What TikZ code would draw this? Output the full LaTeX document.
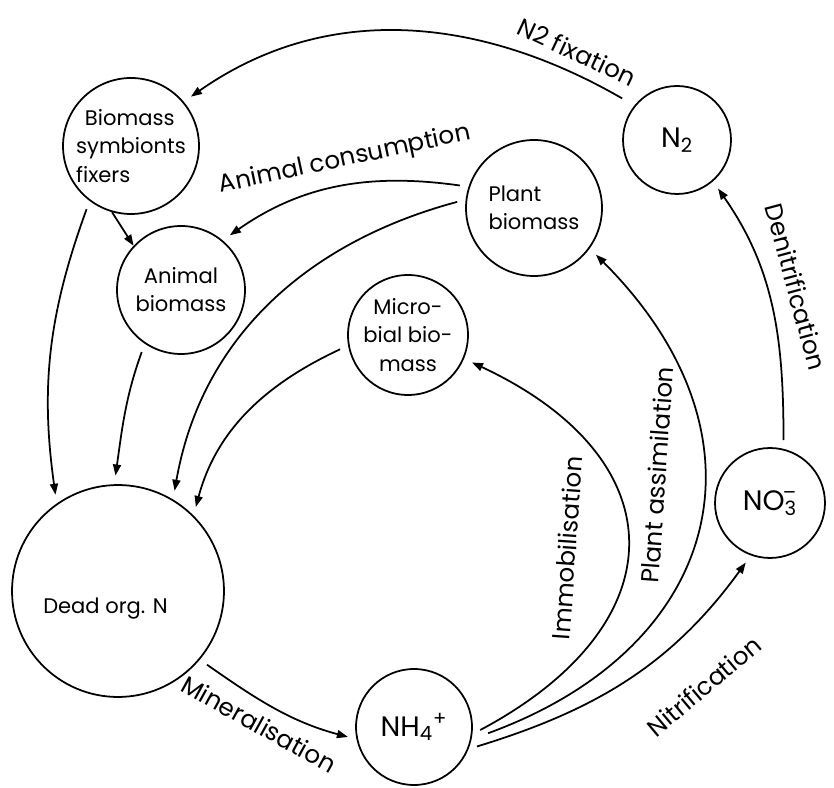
\documentclass[tikz,border=0pt]{standalone}
\usepackage{fontspec}
\setmainfont{Poppins}
\usetikzlibrary{arrows.meta}

\begin{document}
\begin{tikzpicture}[x=0.02cm,y=0.02cm,line width=1pt,
pool/.style={draw,circle,inner sep=0pt,line width=1pt},
pooltext/.style={font=\fontsize{12}{16}\selectfont,align=center},
bigtext/.style={font=\fontsize{16}{18}\selectfont},
flow/.style={-{Triangle[length=2.2mm,width=1.6mm]},shorten <=5pt,shorten >=5pt},
flowlabel/.style={font=\fontsize{14}{16}\selectfont,inner sep=0pt}]

\useasboundingbox (0,0) rectangle (834,787);

% pools
\draw (131,641) node[pool,minimum size=2.72cm,label={[pooltext,align=left]center:\hspace*{5pt}Biomass\\symbionts\\fixers}] (bio) {};
\draw (181,497) node[pool,minimum size=2.56cm,label={[pooltext]center:Animal\\biomass}] (animal) {};
\draw (534,579) node[pool,minimum size=2.72cm,label={[pooltext,align=left]center:Plant\\biomass}] (plant) {};
\draw (677,647) node[pool,minimum size=2.16cm,label={[bigtext]center:N\textsubscript{2}}] (n2) {};
\draw (408,452) node[pool,minimum size=2.4cm,label={[pooltext]center:Micro-\\bial bio-\\mass}] (micro) {};
\draw (770,284) node[pool,minimum size=2.2cm,label={[bigtext]center:NO\textsubscript{3}\llap{\textsuperscript{--}}}] (no3) {};
\draw (118,196) node[pool,minimum size=4.24cm,label={[pooltext,xshift=-0.25cm,yshift=-0.35cm]center:Dead org. N}] (dead) {};
\draw (414,60) node[pool,minimum size=2.32cm,label={[bigtext]center:NH\textsubscript{4}\textsuperscript{+}}] (nh) {};

% flows
\draw[flow,shorten <=8pt] (n2.141) to[out=150,in=35] (bio.40);
\draw[flow] (bio.233) to[out=250,in=98] (dead.125);
\draw[flow,shorten <=0pt,shorten >=0pt] (bio.254) -- (animal.137);
\draw[flow] (plant.162) to[out=172,in=35] (animal.50);
\draw[flow] (plant.173) to[out=195,in=80] (dead.59);
\draw[flow] (animal.236) to[out=250,in=82] (dead.92);
\draw[flow] (micro.190) to[out=205,in=75] (dead.45);
\draw[flow] (dead.-40) to[out=-35,in=165] (nh.192);
\draw[flow] (nh.-7) to[out=28,in=-25,looseness=1.6] (micro.-23);
\draw[flow,shorten <=10pt] (nh.-12) to[out=20,in=-45,looseness=1.35] (plant.-36);
\draw[flow] (nh.-22) to[out=17,in=234] (no3.250);
\draw[flow] (no3.76) to[out=90,in=-55] (n2.-49);

% flow labels
\node[flowlabel,rotate=-25] (fixlbl) at (577,735) {N2 fixation};
\node[flowlabel,rotate=12] (eatlbl) at (345,627) {Animal consumption};
\node[flowlabel,rotate=-29] (minlbl) at (259,63) {Mineralisation};
\node[flowlabel,rotate=86] (immlbl) at (567,239) {Immobilisation};
\node[flowlabel,rotate=86] (asslbl) at (657,312) {Plant assimilation};
\node[flowlabel,rotate=40] (nitlbl) at (704,101) {Nitrification};
\node[flowlabel,rotate=-75] (denlbl) at (796,500) {Denitrification};
\end{tikzpicture}
\end{document}
